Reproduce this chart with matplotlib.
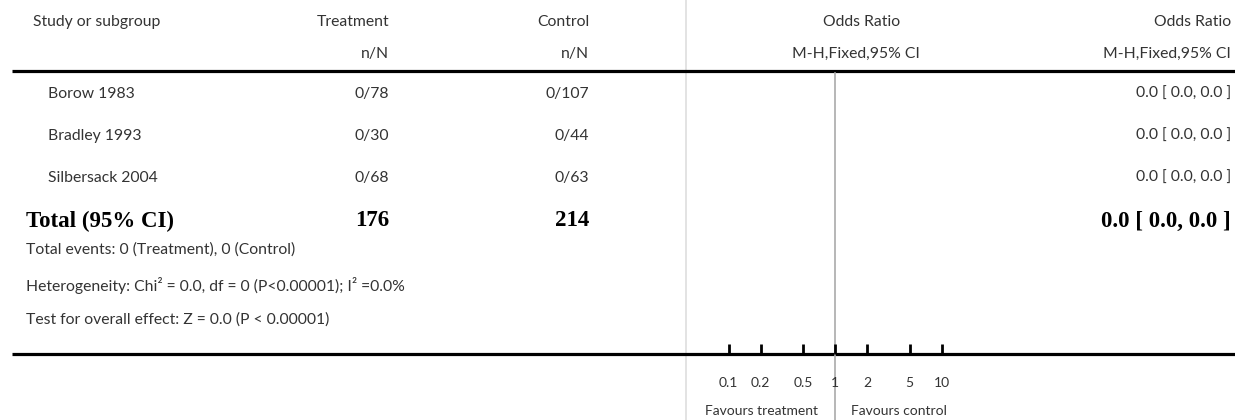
import numpy as np
import matplotlib.pyplot as plt

# dados do forest plot
estudos = ["Borow 1983", "Bradley 1993", "Silbersack 2004"]
trat_n = [0, 0, 0]
trat_N = [78, 30, 68]
ctrl_n = [0, 0, 0]
ctrl_N = [107, 44, 63]
or_est = [0.0, 0.0, 0.0]
or_low = [0.0, 0.0, 0.0]
or_high = [0.0, 0.0, 0.0]
total_or = (0.0, 0.0, 0.0)
ticks_or = [0.1, 0.2, 0.5, 1, 2, 5, 10]
tick_labels = ["0.1", "0.2", "0.5", "1", "2", "5", "10"]

W, H = 1235, 420
fam = "Lato"
cor = "#333333"
fs = 11.3

fig = plt.figure(figsize=(W / 100, H / 100), dpi=100)
ax = fig.add_axes([0, 0, 1, 1])
ax.set_xlim(0, W)
ax.set_ylim(H, 0)
ax.axis("off")

def txt(x, y, s, ha="left", **kw):
    opts = dict(fontsize=fs, family=fam, color=cor)
    opts.update(kw)
    ax.text(x, y, s, ha=ha, va="center", **opts)

# cabecalho
y1, y2 = 22, 54
txt(33, y1, "Study or subgroup")
txt(389, y1, "Treatment", "right")
txt(389, y2, "n/N", "right")
txt(589, y1, "Control", "right")
txt(589, y2, "n/N", "right")
txt(862, y1, "Odds Ratio", "center")
txt(856, y2, "M-H,Fixed,95% CI", "center")
txt(1231, y1, "Odds Ratio", "right")
txt(1231, y2, "M-H,Fixed,95% CI", "right")

# linhas horizontais
ax.plot([12, W], [71, 71], color="black", lw=2.3, solid_capstyle="butt", zorder=3)
ax.plot([12, W], [354, 354], color="black", lw=2.3, solid_capstyle="butt", zorder=3)

# linha cinza clara separando a tabela
ax.plot([686, 686], [0, H], color="#dedede", lw=1.2, zorder=1)

# linhas dos estudos
ys = [94, 136, 178]
for i in range(len(estudos)):
    txt(48, ys[i], estudos[i])
    txt(389, ys[i], f"{trat_n[i]}/{trat_N[i]}", "right")
    txt(589, ys[i], f"{ctrl_n[i]}/{ctrl_N[i]}", "right")
    txt(1231, ys[i], f"{or_est[i]:.1f} [ {or_low[i]:.1f}, {or_high[i]:.1f} ]", "right")

# total
yt = 221
bold = dict(fontsize=16.5, family="Liberation Serif", weight="bold", color="black")
txt(26, yt, "Total (95% CI)", **bold)
txt(389, yt, str(sum(trat_N)), "right", **bold)
txt(589, yt, str(sum(ctrl_N)), "right", **bold)
txt(1231, yt, f"{total_or[0]:.1f} [ {total_or[1]:.1f}, {total_or[2]:.1f} ]", "right", **bold)

rodape = [
    f"Total events: {sum(trat_n)} (Treatment), {sum(ctrl_n)} (Control)",
    "Heterogeneity: Chi\u00b2 = 0.0, df = 0 (P<0.00001); I\u00b2 =0.0%",
    "Test for overall effect: Z = 0.0 (P < 0.00001)",
]
for y, t in zip([250, 285, 320], rodape):
    txt(26, y, t)

# eixo do forest plot (escala log)
x0, x1 = 728.5, 941.7
y_top, y_bot = 73, 354
fx = fig.add_axes([x0 / W, 1 - y_bot / H, (x1 - x0) / W, (y_bot - y_top) / H])
fx.set_xscale("log")
fx.set_xlim(0.1, 10)
fx.set_ylim(0, 1)
fx.patch.set_visible(False)
for s in fx.spines.values():
    s.set_visible(False)
fx.set_yticks([])
fx.set_xticks(ticks_or)
fx.set_xticklabels(tick_labels)
fx.minorticks_off()
fx.tick_params(axis="x", direction="in", length=7, width=2, color="black",
               pad=16.5, labelsize=10, labelcolor=cor)
for lb in fx.get_xticklabels():
    lb.set_family(fam)

# linha de nulidade (OR = 1)
fx.axvline(1, ymin=-(H - y_bot) / (y_bot - y_top), ymax=1, color="#aaaaaa", lw=1.2,
           clip_on=False, zorder=0)

txt(818, 411, "Favours treatment", "right", fontsize=10)
txt(851, 411, "Favours control", fontsize=10)

fig.savefig("out.png", dpi=100)
